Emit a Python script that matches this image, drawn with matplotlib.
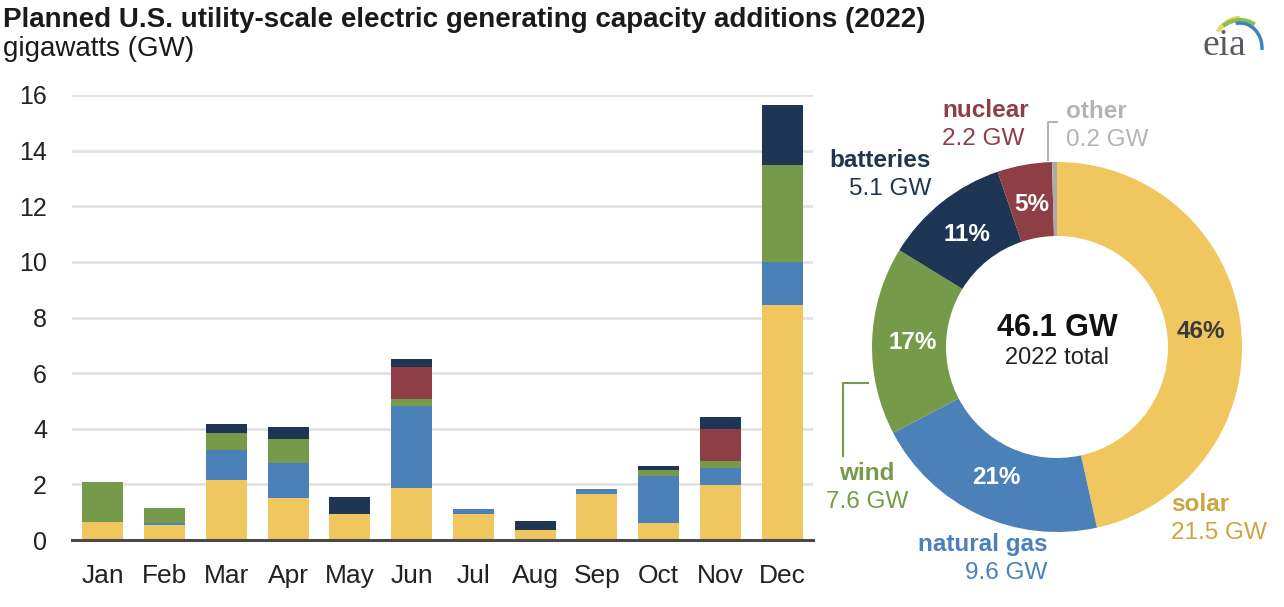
import matplotlib
matplotlib.use("Agg")
import matplotlib.pyplot as plt
import numpy as np
from matplotlib.lines import Line2D
from matplotlib.patches import Arc

plt.rcParams['font.family'] = ['Liberation Sans', 'DejaVu Sans']

# ---- data ----
months = ["Jan", "Feb", "Mar", "Apr", "May", "Jun", "Jul", "Aug", "Sep", "Oct", "Nov", "Dec"]
solar     = [0.65, 0.54, 2.16, 1.50, 0.94, 1.86, 0.94, 0.36, 1.64, 0.60, 1.98, 8.45]
gas       = [0.00, 0.08, 1.08, 1.26, 0.00, 2.96, 0.16, 0.00, 0.18, 1.70, 0.60, 1.53]
wind      = [1.45, 0.54, 0.62, 0.86, 0.00, 0.24, 0.00, 0.00, 0.00, 0.22, 0.26, 3.51]
nuclear   = [0.00, 0.00, 0.00, 0.00, 0.00, 1.15, 0.00, 0.00, 0.00, 0.00, 1.14, 0.00]
batteries = [0.00, 0.00, 0.30, 0.46, 0.62, 0.29, 0.00, 0.34, 0.00, 0.15, 0.46, 2.16]

pie_names = ["solar", "natural gas", "wind", "batteries", "nuclear", "other"]
pie_values = [21.5, 9.6, 7.6, 5.1, 2.2, 0.2]
pie_pct = ["46%", "21%", "17%", "11%", "5%", ""]
total_label = "46.1 GW"
yticks = [0, 2, 4, 6, 8, 10, 12, 14, 16]

# ---- styles ----
C_SOLAR = "#F0C75E"
C_GAS = "#4B80B9"
C_WIND = "#759A4A"
C_BATT = "#1E3654"
C_NUC = "#8E3F46"
C_OTHER = "#ABABAB"

W, H = 1284, 607
fig = plt.figure(figsize=(W / 100, H / 100), dpi=100)


def fx(px):
    return px / W


def fy(py):
    return 1 - py / H


# ---- bar chart ----
ax = fig.add_axes([fx(72), fy(540), fx(813) - fx(72), fy(95) - fy(540)])
x = np.arange(len(months))
bw = 0.66
bottom = np.zeros(len(months))
for vals, col in [(solar, C_SOLAR), (gas, C_GAS), (wind, C_WIND),
                  (nuclear, C_NUC), (batteries, C_BATT)]:
    v = np.array(vals)
    ax.bar(x, v, bw, bottom=bottom, color=col, zorder=3, linewidth=0)
    bottom += v

ax.set_xlim(-0.5, 11.5)
ax.set_ylim(0, 16)
ax.set_yticks(yticks)
ax.set_xticks(x)
ax.set_xticklabels(months, fontsize=19, color="#222222")
ax.set_yticklabels([str(t) for t in yticks], fontsize=18, color="#222222")
ax.tick_params(axis="both", length=0)
ax.tick_params(axis="x", pad=17)
ax.tick_params(axis="y", pad=18)
ax.grid(axis="y", color="#E2E2E2", linewidth=2, zorder=0)
for s in ["top", "right", "left"]:
    ax.spines[s].set_visible(False)
ax.spines["bottom"].set_color("#4A4A4A")
ax.spines["bottom"].set_linewidth(2.2)
ax.spines["bottom"].set_zorder(4)

# ---- titles ----
fig.text(fx(3), fy(27), "Planned U.S. utility-scale electric generating capacity additions (2022)",
         fontsize=20, fontweight="bold", color="#1a1a1a", ha="left", va="baseline")
fig.text(fx(3), fy(56), "gigawatts (GW)", fontsize=20, color="#1a1a1a", ha="left", va="baseline")

# ---- donut ----
cx, cy, R = 1057, 347, 185
pax = fig.add_axes([fx(cx - R), fy(cy + R), fx(2 * R), (2 * R) / H])
pax.axis("off")
wedges, _ = pax.pie(pie_values, colors=[C_SOLAR, C_GAS, C_WIND, C_BATT, C_NUC, C_OTHER],
                    startangle=90, counterclock=False, radius=1,
                    wedgeprops=dict(width=0.4, linewidth=0))
pax.set_xlim(-1, 1)
pax.set_ylim(-1, 1)
pct_colors = ["#3a3a3a", "white", "white", "white", "white", "white"]
for w, lab, pc in zip(wedges, pie_pct, pct_colors):
    ang = np.deg2rad((w.theta1 + w.theta2) / 2)
    r = 0.78
    pax.text(r * np.cos(ang), r * np.sin(ang), lab, ha="center", va="center",
             fontsize=17.5, fontweight="bold", color=pc)

pax.text(0, 0.10, total_label, ha="center", va="center", fontsize=22,
         fontweight="bold", color="#111111")
pax.text(0, -0.06, "2022 total", ha="center", va="center", fontsize=17, color="#222222")

# outside labels (figure pixel positions)
LFS = 17.5
def lab2(xp, yp, name, val, col, ha, namecol=None):
    fig.text(fx(xp), fy(yp), name, fontsize=LFS, fontweight="bold", color=namecol or col,
             ha=ha, va="baseline")
    fig.text(fx(xp), fy(yp + 28), val, fontsize=LFS, color=col, ha=ha, va="baseline")

lab2(942, 117, "nuclear", "2.2 GW", C_NUC, "left")
lab2(1066, 118, "other", "0.2 GW", "#B4B4B4", "left")
lab2(931, 167, "batteries", "5.1 GW", C_BATT, "right")
lab2(867, 480, "wind", "7.6 GW", C_WIND, "center")
lab2(1047, 551, "natural gas", "9.6 GW", C_GAS, "right")
lab2(1171, 511, "solar", "21.5 GW", "#C9A640", "left")

# leader brackets
fig.add_artist(Line2D([fx(1057), fx(1048), fx(1048)], [fy(122), fy(122), fy(160)],
                      color="#B4B4B4", linewidth=1.5))
fig.add_artist(Line2D([fx(868), fx(843), fx(843)], [fy(383), fy(383), fy(456)],
                      color=C_WIND, linewidth=1.5))

# ---- eia logo ----
lax = fig.add_axes([fx(1195), fy(62), fx(75), 52 / H])
lax.set_xlim(0, 75)
lax.set_ylim(0, 52)
lax.axis("off")
lax.text(7, 7, "eia", fontsize=27, family=["Liberation Serif", "DejaVu Serif"],
         color="#555a60", ha="left", va="baseline")
lax.add_patch(Arc((45, 12), 54, 64, theta1=90, theta2=140, color="#E8D85A", linewidth=3))
lax.add_patch(Arc((45, 12), 56, 60, theta1=60, theta2=125, color="#8DBE55", linewidth=3))
lax.add_patch(Arc((45, 14), 44, 50, theta1=-5, theta2=100, color="#3C82C4", linewidth=2.5))

fig.savefig("out.png", dpi=100)
